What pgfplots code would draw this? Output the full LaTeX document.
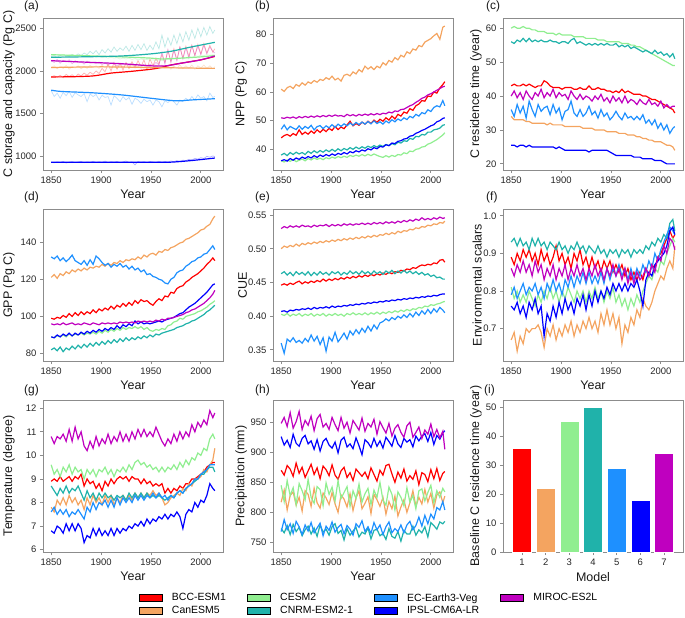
\documentclass[border=0pt]{standalone}
\usepackage{fontspec}
\setmainfont{Liberation Sans}
\usepackage{pgfplots}
\usepackage{pgfplotstable}
\pgfplotsset{compat=1.18}

\definecolor{cbcc}{HTML}{FF0000}
\definecolor{ccan}{HTML}{F4A460}
\definecolor{ccesm}{HTML}{90EE90}
\definecolor{ccnrm}{HTML}{20B2AA}
\definecolor{cec}{HTML}{1E90FF}
\definecolor{cipsl}{HTML}{0000FF}
\definecolor{cmiroc}{HTML}{BF00BF}

% (a) C storage, annual (faint)
\pgfplotstableread{
yr bcc can cesm cnrm ec ipsl miroc
1850 1930 2040 2190 2170 1770 930 2120
1853 1945 2060 2180 2175 1700 925 2100
1856 1925 2025 2195 2160 1740 935 2135
1859 1950 2055 2185 2180 1680 928 2090
1862 1920 2030 2190 2165 1750 940 2125
1865 1960 2065 2175 2185 1710 922 2105
1868 1935 2020 2185 2170 1760 932 2130
1871 1955 2050 2190 2190 1690 938 2085
1874 1930 2035 2180 2175 1745 926 2120
1877 1965 2060 2175 2200 1720 934 2095
1880 1940 2025 2185 2180 1700 940 2110
1883 1975 2055 2170 2210 1735 925 2080
1886 1950 2030 2180 2190 1640 935 2115
1889 1985 2065 2165 2230 1730 930 2090
1892 1960 2040 2175 2200 1700 942 2100
1895 2000 2060 2160 2240 1725 928 2085
1898 1970 2030 2170 2190 1660 936 2105
1901 2030 2065 2155 2250 1715 930 2075
1904 1990 2040 2165 2210 1690 944 2095
1907 2080 2070 2150 2260 1700 926 2070
1910 2000 2035 2160 2220 1600 938 2090
1913 2100 2060 2150 2280 1710 932 2080
1916 2020 2030 2155 2230 1680 940 2060
1919 2090 2075 2140 2270 1640 925 2085
1922 2010 2040 2150 2240 1700 935 2070
1925 2100 2065 2140 2290 1660 945 2090
1928 2030 2030 2150 2230 1690 928 2065
1931 2110 2070 2135 2300 1610 936 2085
1934 2040 2035 2145 2240 1680 900 2060
1937 2120 2060 2130 2310 1660 940 2080
1940 2050 2030 2140 2250 1620 932 2060
1943 2130 2065 2130 2320 1670 938 2075
1946 2020 2020 2135 2240 1640 928 2055
1949 2140 2060 2125 2300 1660 940 2080
1952 2060 2030 2130 2250 1600 935 2060
1955 2150 2070 2120 2340 1660 930 2100
1958 2080 2025 2130 2260 1640 942 2070
1961 2190 2070 2120 2420 1580 932 2220
1964 2100 2035 2130 2280 1650 940 2080
1967 2240 2065 2135 2390 1630 934 2250
1970 2110 2020 2140 2300 1660 945 2100
1973 2260 2060 2140 2420 1640 938 2240
1976 2130 2030 2150 2320 1600 950 2120
1979 2280 2070 2145 2440 1660 942 2280
1982 2150 2025 2160 2340 1640 955 2140
1985 2290 2060 2150 2460 1680 950 2270
1988 2170 2030 2170 2360 1650 965 2150
1991 2300 2070 2160 2480 1700 958 2300
1994 2180 2020 2180 2380 1660 975 2180
1997 2310 2060 2170 2500 1720 968 2290
2000 2200 2035 2185 2400 1680 985 2190
2003 2320 2070 2180 2510 1700 975 2300
2006 2210 2030 2190 2420 1650 1000 2200
2009 2300 2060 2185 2520 1740 990 2280
2012 2220 2025 2190 2440 1690 1005 2230
2014 2260 2050 2185 2480 1700 995 2210
}\tabA

% (b) NPP
\pgfplotstableread{
yr bcc can cesm cnrm ec ipsl miroc
1850 44.0 61.0 36.0 38.0 47.0 36.0 51.0
1853 44.8 60.2 35.6 38.6 48.5 36.4 50.8
1856 45.2 61.5 36.3 37.8 46.8 35.9 51.2
1859 44.6 62.0 35.8 38.9 48.0 36.8 50.9
1862 45.5 61.2 36.5 38.2 47.4 36.2 51.3
1865 44.9 62.6 35.7 39.0 46.9 37.0 50.8
1868 46.8 62.0 36.2 38.4 48.2 36.5 51.4
1871 45.2 63.2 36.6 38.9 47.0 37.3 51.0
1874 46.0 62.4 36.0 38.2 48.0 36.8 51.5
1877 45.3 63.5 36.8 39.3 47.3 37.5 51.1
1880 46.4 63.0 36.3 38.6 48.4 37.0 51.6
1883 45.6 64.0 37.0 39.5 46.8 37.8 51.2
1886 46.8 63.4 36.5 38.8 47.9 37.2 51.7
1889 45.9 64.4 36.9 39.6 48.3 38.0 51.3
1892 47.0 64.0 36.4 39.0 47.2 37.5 51.8
1895 46.2 65.0 37.1 39.8 48.2 38.2 51.4
1898 47.3 64.4 36.7 39.2 47.5 37.7 51.9
1901 46.6 65.5 37.3 40.0 48.6 38.4 51.5
1904 48.0 64.2 36.9 39.3 47.6 37.9 52.0
1907 46.9 64.8 37.5 40.2 48.8 38.6 51.6
1910 47.8 63.8 37.1 39.5 48.0 38.2 51.8
1913 47.2 65.8 37.6 40.3 48.9 38.9 51.4
1916 48.5 66.2 37.2 39.8 48.2 38.4 52.2
1919 49.8 65.6 37.9 40.6 49.2 39.2 51.7
1922 48.2 67.0 37.5 40.0 48.4 38.8 52.1
1925 49.0 66.3 38.0 40.8 49.4 39.5 51.6
1928 48.4 67.8 37.6 40.2 48.6 39.1 52.2
1931 49.5 67.0 38.2 40.9 49.5 39.8 51.8
1934 48.8 69.0 37.7 40.4 48.8 39.4 52.3
1937 49.8 68.0 38.3 41.1 49.7 40.2 51.9
1940 49.0 68.8 37.8 40.6 48.9 39.8 52.4
1943 50.2 67.8 38.4 41.3 49.9 40.6 52.0
1946 49.4 69.0 37.9 40.8 49.0 40.2 52.5
1949 50.5 68.4 37.5 41.5 49.6 41.0 52.1
1952 49.8 70.2 37.2 41.0 48.8 40.8 52.6
1955 51.0 69.4 37.8 41.7 49.9 41.6 52.4
1958 50.2 71.0 37.3 41.3 49.2 41.3 53.0
1961 51.6 70.4 37.9 42.0 50.3 42.2 52.7
1964 50.6 72.0 37.5 41.6 49.6 42.0 53.4
1967 52.2 71.2 38.2 42.5 50.6 42.8 53.2
1970 51.6 72.8 38.0 42.2 50.0 43.0 53.9
1973 53.0 72.2 38.8 43.0 51.0 43.6 54.0
1976 52.6 74.0 38.5 42.8 50.4 43.8 54.6
1979 54.2 73.4 39.4 43.8 51.5 44.6 55.2
1982 53.6 75.0 39.2 43.5 51.0 44.8 55.6
1985 55.2 74.6 40.0 44.5 52.2 45.6 56.4
1988 55.8 76.2 40.2 44.4 51.6 46.0 57.0
1991 57.0 75.8 40.8 45.2 52.8 46.6 57.8
1994 56.8 77.4 41.0 45.0 52.4 47.0 58.2
1997 58.6 78.0 41.8 46.0 53.8 47.6 59.0
2000 58.4 78.6 42.2 46.0 53.2 48.2 59.4
2003 60.0 79.6 42.8 46.8 54.6 48.6 60.0
2006 59.6 80.4 43.4 47.0 55.2 49.6 60.6
2009 61.4 78.4 44.2 47.4 54.8 50.0 61.2
2012 62.6 82.6 45.0 48.4 57.0 50.8 61.8
2014 63.6 83.0 45.8 48.6 55.2 51.0 62.0
}\tabB

% (c) C residence time
\pgfplotstableread{
yr bcc can cesm cnrm ec ipsl miroc
1850 43 34 60 56 36 25.5 40
1853 43.5 33 60.5 55.5 34 25.5 41.5
1856 43 33 60 56.5 37.5 25 39.5
1859 43 33 60 56 35 25.5 41
1862 43.5 33 60.5 57 37 25.5 39
1865 43 32.5 60 56 33.5 25 41.5
1868 43.5 32.5 60 57 38.5 25.5 40
1871 43 32 59.5 56 36 25 39
1874 42.5 32 59.5 56.5 34 25 41
1877 43 32 59 56 37.5 25 40
1880 43 32 59 56.5 35.5 25 42
1883 44.5 32 59 56 36.5 25 39.5
1886 44 31.5 58.5 56 37 25 41
1889 43 32 58.5 56.5 34.5 25 40
1892 42.5 31.5 58.5 56 37.5 25 42
1895 42.5 31.5 58 56 35 24.5 39.5
1898 42.5 31.5 58.5 55.5 36.5 25 41
1901 42 31.5 58 56 33 24.5 40
1904 42.5 31 58 56 35.5 24 40.5
1907 42.5 31 58 55.5 36 24 39
1910 42.5 31 58 56.5 38.5 24 41.5
1913 42 31 57.5 57 35 24 40
1916 42 31 57.5 55.5 34 24 39
1919 42.5 31 57.5 56 36 24 40.5
1922 42 30.5 57.5 55.5 34 24 39
1925 42 30.5 57 55 35 24 40
1928 43 30.5 57 55.5 37 23.5 39.5
1931 42 30.5 57 55 34.5 24 38.5
1934 42 30 57 55.5 35.5 24 40
1937 42.5 30 56.5 55 33.5 24 39
1940 42 30 56.5 55.5 36 24 40.5
1943 42 30 56.5 55 34 24 38.5
1946 41.5 29.5 56 55.5 35 24 39.5
1949 41.5 29.5 56 55 33 23.5 38
1952 41 29.5 56 55 34 23 40
1955 41.5 29.5 56 55.5 35.5 22.5 38.5
1958 41 29 56 54.5 34 22.5 39.5
1961 42 29 55.5 55 33 22.5 38
1964 41 29 55.5 54.5 35 22.5 40
1967 41.5 28.5 55.5 55 33.5 22.5 38
1970 41 28.5 55 54 34 22.5 39
1973 40.5 28.5 55 54.5 33 22 38.5
1976 40.5 28 54.5 54 34 22 37.5
1979 40.5 28 54.5 53.5 33 22 39
1982 40 27.5 54 53 34.5 21.5 38
1985 40 27.5 53.5 53.5 32 21.5 37.5
1988 39.5 27 53 53 33 21.5 39
1991 39 27 52.5 52.5 31.5 21.5 37.5
1994 39 26.5 52 53.5 33 21 38
1997 38.5 26.5 51.5 52.5 30.5 21 37
2000 38 26.5 51 53 32 21 38.5
2003 37.5 26 50.5 52 30 20.5 36.5
2006 37 25.5 50 52.5 31.5 20 37.5
2009 36.5 25.5 49.5 51.5 29 20 36.5
2012 36 25 49 52.5 30.5 20 37
2014 35 24 49 51 31 20 37
}\tabC

% (d) GPP
\pgfplotstableread{
yr bcc can cesm cnrm ec ipsl miroc
1850 99 121 89 82 132 89 96
1853 98.5 122.5 88.5 83 131 88.5 95.5
1856 99.5 120.5 89.5 81.5 132.5 90 96
1859 99 123 89 83.5 130 89 95.5
1862 100.5 122 90 81 131.5 90.5 96.5
1865 99.5 124 89 83 129.5 89.5 95.5
1868 101.5 123 90.5 82 131 91 96
1871 100 125 89.5 84 133 89.5 96.5
1874 102 124 90.5 82.5 130 91 95.5
1877 100.5 125.5 90 84.5 129 90 96
1880 102.5 124.5 91 83 128 91.5 95.5
1883 101 126 90 85 130 90.5 96.5
1886 102.5 125 91 83.5 127.5 92 96
1889 101.5 126.5 90.5 85.5 130.5 91 95.5
1892 103.5 126 91.5 84 128 92.5 96.5
1895 102 127 90.5 86 132.5 91.5 96
1898 104 126.5 92 84.5 131 93 95.5
1901 103 128 91 86.5 129 92 96.5
1904 104.5 127 92.5 85 127.5 93.5 96
1907 103.5 128.5 91.5 87 128.5 92.5 96.5
1910 105.5 127.5 93 85.5 126.5 94 96
1913 104 129 92 87.5 128 93 96.5
1916 106 128.5 93.5 86 127 95 96
1919 105 130 92.5 88 128.5 93.5 97
1922 107 129 94 86.5 126.5 95.5 96.5
1925 105.5 130.5 93 88.5 127.5 94.5 97
1928 107.5 130 94 87 125.5 96 96.5
1931 106 131 93.5 88.5 127 95 97
1934 108.5 130.5 94.5 87.5 125 97.5 96.5
1937 107 132 93.5 89 126 96 97.5
1940 109 131 94.5 88 124 97 97
1943 108 133 93 89.5 125 96 97.5
1946 108.5 132 94 88.5 122.5 96.5 97
1949 107 133.5 92.5 90 123 96 97.5
1952 106 134 92 89 121.5 96.5 97
1955 108 133 93 90.5 121 97 98
1958 109.5 135 92.5 90 120 97.5 97.5
1961 108.5 134.5 93.5 91 119.5 97 98.5
1964 111 136 93 91.5 118 98 98
1967 110.5 135.5 95 92 117.5 98.5 99
1970 113 137 95.5 92.5 120 99 99
1973 112.5 137.5 97 93 121 99.5 99.5
1976 115 138.5 97.5 94 123.5 100.5 100
1979 116 139.5 99 94.5 124.5 101.5 100.5
1982 116.5 140 98.5 95 125 102 101
1985 118.5 141.5 100 96 127 103.5 102
1988 119.5 142 100.5 96.5 128 105 102.5
1991 121 143 101 97.5 129.5 106 103.5
1994 122 144 101.5 98 130 107 104
1997 123 145 102.5 99 131.5 108.5 105
2000 124.5 146.5 103 100 132 110 106
2003 126 147 104 101 133.5 111.5 107
2006 128 148.5 105 102.5 134 113 108.5
2009 129.5 149.5 106.5 103.5 136 115 110
2012 131.5 152.5 107.5 105 138 117 112
2014 130 154 108.5 106 136 117.5 114
}\tabD

% (e) CUE
\pgfplotstableread{
yr bcc can cesm cnrm ec ipsl miroc
1850 0.446 0.500 0.403 0.463 0.360 0.407 0.530
1853 0.448 0.504 0.401 0.466 0.345 0.408 0.533
1856 0.446 0.502 0.404 0.461 0.366 0.406 0.531
1859 0.449 0.505 0.400 0.465 0.362 0.409 0.534
1862 0.447 0.503 0.403 0.460 0.368 0.408 0.532
1865 0.450 0.507 0.401 0.466 0.361 0.410 0.534
1868 0.452 0.504 0.404 0.462 0.364 0.409 0.532
1871 0.448 0.508 0.400 0.465 0.360 0.411 0.535
1874 0.451 0.506 0.403 0.461 0.367 0.410 0.533
1877 0.449 0.509 0.401 0.466 0.362 0.412 0.534
1880 0.452 0.507 0.404 0.460 0.372 0.410 0.532
1883 0.450 0.510 0.400 0.465 0.363 0.413 0.535
1886 0.453 0.508 0.403 0.461 0.370 0.411 0.533
1889 0.451 0.511 0.401 0.466 0.358 0.413 0.535
1892 0.455 0.509 0.404 0.462 0.368 0.412 0.534
1895 0.452 0.512 0.400 0.465 0.348 0.414 0.536
1898 0.455 0.510 0.403 0.461 0.369 0.412 0.533
1901 0.453 0.513 0.401 0.466 0.363 0.415 0.536
1904 0.456 0.511 0.404 0.463 0.376 0.413 0.534
1907 0.454 0.514 0.401 0.466 0.362 0.415 0.536
1910 0.457 0.512 0.403 0.461 0.368 0.414 0.534
1913 0.455 0.515 0.400 0.465 0.375 0.416 0.537
1916 0.458 0.513 0.404 0.462 0.366 0.415 0.535
1919 0.456 0.516 0.402 0.467 0.378 0.417 0.537
1922 0.459 0.514 0.405 0.463 0.372 0.416 0.535
1925 0.457 0.517 0.402 0.466 0.380 0.418 0.537
1928 0.460 0.515 0.404 0.462 0.374 0.417 0.536
1931 0.458 0.518 0.402 0.467 0.382 0.419 0.538
1934 0.461 0.516 0.405 0.463 0.376 0.418 0.536
1937 0.459 0.519 0.402 0.466 0.385 0.420 0.538
1940 0.462 0.517 0.405 0.462 0.378 0.419 0.536
1943 0.460 0.520 0.403 0.467 0.387 0.421 0.539
1946 0.463 0.518 0.406 0.463 0.381 0.420 0.537
1949 0.461 0.521 0.403 0.466 0.390 0.422 0.539
1952 0.464 0.520 0.406 0.462 0.392 0.421 0.537
1955 0.462 0.523 0.404 0.467 0.396 0.423 0.540
1958 0.465 0.521 0.407 0.464 0.393 0.422 0.538
1961 0.463 0.524 0.405 0.468 0.398 0.424 0.540
1964 0.466 0.522 0.408 0.463 0.395 0.423 0.538
1967 0.465 0.526 0.406 0.467 0.400 0.425 0.541
1970 0.468 0.524 0.409 0.464 0.397 0.424 0.539
1973 0.467 0.527 0.407 0.468 0.402 0.426 0.542
1976 0.470 0.526 0.410 0.464 0.398 0.425 0.540
1979 0.469 0.529 0.408 0.467 0.404 0.427 0.543
1982 0.472 0.528 0.411 0.463 0.399 0.426 0.541
1985 0.471 0.531 0.410 0.466 0.406 0.428 0.544
1988 0.474 0.530 0.413 0.462 0.401 0.427 0.542
1991 0.476 0.533 0.412 0.465 0.408 0.429 0.546
1994 0.475 0.532 0.415 0.461 0.403 0.428 0.543
1997 0.477 0.535 0.414 0.463 0.410 0.430 0.545
2000 0.476 0.534 0.417 0.459 0.404 0.429 0.543
2003 0.479 0.537 0.416 0.461 0.411 0.431 0.546
2006 0.478 0.536 0.418 0.457 0.406 0.430 0.544
2009 0.483 0.539 0.419 0.458 0.413 0.432 0.547
2012 0.484 0.538 0.421 0.455 0.409 0.433 0.545
2014 0.480 0.541 0.422 0.455 0.405 0.433 0.546
}\tabE

% (f) environmental scalars
\pgfplotstableread{
yr bcc can cesm cnrm ec ipsl miroc
1850 0.89 0.67 0.81 0.93 0.79 0.76 0.86
1853 0.87 0.69 0.78 0.94 0.81 0.75 0.84
1856 0.90 0.64 0.80 0.92 0.78 0.77 0.87
1859 0.88 0.68 0.77 0.94 0.80 0.74 0.85
1862 0.91 0.66 0.79 0.92 0.82 0.76 0.88
1865 0.89 0.70 0.77 0.93 0.79 0.73 0.85
1868 0.91 0.69 0.80 0.91 0.81 0.77 0.87
1871 0.88 0.70 0.78 0.94 0.80 0.75 0.84
1874 0.90 0.70 0.76 0.92 0.82 0.78 0.88
1877 0.87 0.71 0.79 0.94 0.79 0.74 0.85
1880 0.91 0.69 0.77 0.92 0.81 0.76 0.87
1883 0.88 0.65 0.80 0.93 0.78 0.68 0.83
1886 0.90 0.70 0.78 0.91 0.82 0.74 0.86
1889 0.87 0.68 0.81 0.93 0.80 0.72 0.84
1892 0.89 0.71 0.78 0.92 0.83 0.76 0.87
1895 0.92 0.67 0.80 0.91 0.80 0.73 0.83
1898 0.88 0.70 0.77 0.93 0.82 0.77 0.86
1901 0.90 0.68 0.80 0.91 0.79 0.74 0.84
1904 0.87 0.71 0.78 0.92 0.83 0.78 0.87
1907 0.89 0.69 0.81 0.90 0.81 0.75 0.83
1910 0.86 0.72 0.79 0.92 0.84 0.77 0.86
1913 0.90 0.68 0.77 0.91 0.81 0.74 0.84
1916 0.88 0.71 0.80 0.93 0.84 0.78 0.87
1919 0.91 0.69 0.78 0.91 0.82 0.76 0.84
1922 0.87 0.72 0.80 0.92 0.85 0.79 0.86
1925 0.89 0.70 0.77 0.90 0.82 0.75 0.83
1928 0.86 0.73 0.80 0.92 0.85 0.79 0.86
1931 0.89 0.70 0.78 0.91 0.82 0.76 0.84
1934 0.86 0.72 0.81 0.90 0.84 0.80 0.87
1937 0.88 0.69 0.78 0.92 0.82 0.77 0.84
1940 0.85 0.74 0.80 0.90 0.85 0.80 0.86
1943 0.88 0.71 0.77 0.91 0.82 0.78 0.83
1946 0.86 0.75 0.80 0.89 0.86 0.81 0.86
1949 0.88 0.71 0.78 0.91 0.83 0.79 0.84
1952 0.85 0.74 0.81 0.90 0.86 0.82 0.87
1955 0.87 0.70 0.77 0.91 0.84 0.80 0.84
1958 0.85 0.73 0.79 0.89 0.87 0.82 0.86
1961 0.87 0.66 0.76 0.91 0.84 0.80 0.83
1964 0.84 0.71 0.78 0.90 0.86 0.82 0.86
1967 0.86 0.69 0.75 0.91 0.83 0.80 0.82
1970 0.83 0.73 0.78 0.89 0.86 0.82 0.85
1973 0.85 0.71 0.76 0.91 0.83 0.81 0.82
1976 0.83 0.75 0.79 0.90 0.86 0.83 0.85
1979 0.85 0.73 0.77 0.91 0.84 0.80 0.83
1982 0.83 0.78 0.80 0.90 0.87 0.76 0.84
1985 0.86 0.76 0.82 0.92 0.85 0.83 0.86
1988 0.84 0.75 0.84 0.91 0.88 0.85 0.84
1991 0.87 0.77 0.83 0.93 0.86 0.84 0.87
1994 0.86 0.80 0.86 0.92 0.90 0.87 0.85
1997 0.89 0.82 0.85 0.94 0.88 0.88 0.89
2000 0.90 0.84 0.88 0.93 0.91 0.89 0.88
2003 0.92 0.83 0.87 0.95 0.93 0.90 0.92
2006 0.94 0.86 0.90 0.94 0.95 0.92 0.90
2009 0.96 0.88 0.92 0.98 0.97 0.96 0.94
2012 0.94 0.86 0.94 0.99 0.96 0.97 0.93
2014 0.95 0.92 0.93 0.96 0.95 0.95 0.91
}\tabF

% (g) temperature
\pgfplotstableread{
yr bcc can cesm cnrm ec ipsl miroc
1850 8.9 7.8 9.6 8.7 7.6 6.8 10.8
1853 9.0 7.6 9.2 8.5 7.8 6.7 10.5
1856 8.9 8.1 9.4 8.3 7.5 7.0 10.8
1859 9.1 7.9 9.1 8.6 7.7 6.9 10.7
1862 8.9 8.2 9.5 8.4 7.5 6.7 10.9
1865 9.0 7.9 9.3 8.7 7.7 7.1 10.6
1868 9.1 8.3 9.6 8.4 7.4 6.8 11.1
1871 8.9 8.0 9.2 8.6 7.6 7.1 10.6
1874 9.1 8.2 9.5 8.5 7.5 6.8 11.2
1877 9.0 7.9 9.3 8.7 7.7 7.1 10.7
1880 9.2 8.1 9.4 8.4 7.5 6.9 11.0
1883 8.7 7.7 9.0 8.1 7.3 6.3 10.4
1886 9.0 8.2 9.4 8.5 7.8 6.6 10.2
1889 8.8 7.9 9.2 8.2 7.6 6.5 10.6
1892 8.9 8.3 9.4 8.4 8.0 6.9 10.3
1895 8.6 8.0 9.1 8.1 7.7 6.6 10.8
1898 8.8 8.2 9.4 8.4 8.0 6.9 10.4
1901 8.5 7.9 9.3 8.2 7.9 6.6 10.7
1904 8.9 8.3 9.5 8.4 8.1 6.8 10.5
1907 8.7 8.0 9.2 8.2 7.8 6.6 10.9
1910 9.0 8.3 9.4 8.3 8.1 6.9 10.5
1913 8.8 7.9 9.1 8.1 7.8 6.6 10.8
1916 9.0 8.2 9.4 8.3 8.2 6.9 10.6
1919 9.1 8.0 9.3 8.2 7.9 6.7 11.0
1922 9.0 8.3 9.5 8.3 8.2 6.9 10.6
1925 9.1 8.1 9.3 8.1 8.0 6.8 10.9
1928 8.9 8.3 9.6 8.4 8.2 7.0 10.6
1931 9.1 8.1 9.4 8.2 8.0 6.9 11.0
1934 9.0 8.4 9.7 8.4 8.3 7.1 10.7
1937 9.0 8.2 9.8 8.2 8.1 7.0 11.1
1940 8.8 8.4 9.6 8.4 8.3 7.2 10.8
1943 9.0 8.2 9.7 8.2 8.1 7.0 11.1
1946 8.8 8.4 9.5 8.4 8.3 7.3 10.8
1949 8.9 8.3 9.6 8.2 8.2 7.1 11.0
1952 8.7 8.5 9.4 8.3 8.4 7.3 10.8
1955 8.8 8.3 9.5 8.2 8.2 7.2 11.2
1958 8.7 8.4 9.3 8.3 8.4 7.4 10.9
1961 8.8 8.2 9.5 8.2 8.2 7.3 10.6
1964 8.4 7.9 9.3 8.1 8.3 7.5 10.4
1967 8.6 8.0 9.5 8.2 8.1 7.3 10.7
1970 8.4 8.2 9.4 8.3 8.3 7.5 10.5
1973 8.6 8.3 9.6 8.2 8.2 7.4 10.9
1976 8.5 8.4 9.4 8.4 8.4 7.6 10.6
1979 8.7 8.3 9.7 8.5 8.5 7.4 11.0
1982 8.6 8.6 9.5 8.4 8.4 6.9 10.7
1985 8.8 8.5 9.8 8.6 8.6 7.5 11.0
1988 8.8 8.8 9.6 8.7 8.7 7.7 10.8
1991 9.0 8.7 9.9 8.8 8.8 7.6 11.3
1994 9.0 9.0 9.8 8.9 9.0 8.0 11.0
1997 9.1 9.0 10.1 9.0 9.0 7.8 11.4
2000 9.2 9.1 10.0 9.2 9.2 8.1 11.2
2003 9.3 9.4 10.3 9.2 9.3 8.0 11.5
2006 9.5 9.3 10.2 9.4 9.4 8.3 11.3
2009 9.6 9.6 10.7 9.5 9.6 8.8 11.9
2012 9.7 9.8 10.9 9.5 9.6 8.6 11.6
2014 9.7 10.3 10.7 9.3 9.6 8.5 11.8
}\tabG

% (h) precipitation
\pgfplotstableread{
yr bcc can cesm cnrm ec ipsl miroc
1850 870 817 845 773 768 926 948
1853 862 837 818 766 788 912 958
1856 878 804 853 778 771 920 943
1859 872 828 828 763 781 908 966
1862 860 834 841 780 765 930 940
1865 882 812 813 768 785 915 951
1868 865 825 848 775 776 910 968
1871 875 802 836 761 763 923 938
1874 858 836 821 771 779 928 953
1877 869 830 855 777 769 914 945
1880 880 810 825 764 783 919 960
1883 863 840 815 774 766 905 936
1886 874 816 843 760 774 921 956
1889 856 807 838 779 782 902 963
1892 877 832 811 767 761 918 942
1895 871 824 849 772 777 923 948
1898 861 813 830 762 770 912 938
1901 879 833 842 776 784 907 958
1904 862 814 819 781 767 917 946
1907 855 800 853 765 775 899 936
1910 869 829 823 770 780 920 958
1913 875 822 833 754 764 925 940
1916 858 809 843 773 778 909 950
1919 866 831 810 762 772 914 932
1922 853 803 836 769 762 906 953
1925 872 824 823 775 781 924 945
1928 866 836 847 759 775 911 937
1931 860 806 817 767 786 896 957
1934 867 815 831 764 768 921 935
1937 856 826 840 774 776 916 948
1940 874 798 813 756 765 908 942
1943 863 830 837 770 783 923 955
1946 852 821 825 772 771 910 930
1949 870 810 850 761 779 919 951
1952 862 825 820 765 763 907 941
1955 878 797 812 755 776 925 932
1958 880 818 842 773 784 918 948
1961 864 806 830 760 766 910 927
1964 850 827 804 757 773 928 940
1967 867 794 834 768 768 914 946
1970 857 809 825 752 779 908 933
1973 872 821 811 770 766 923 925
1976 852 800 841 764 779 917 944
1979 861 816 817 764 785 921 950
1982 855 836 828 777 771 909 925
1985 869 810 806 762 778 927 933
1988 846 825 836 771 792 919 942
1991 866 814 839 766 777 927 923
1994 863 838 819 776 795 931 937
1997 851 817 833 759 781 918 930
2000 871 832 845 783 797 933 947
2003 856 807 816 778 789 913 926
2006 873 829 836 772 808 928 938
2009 853 834 825 784 804 922 924
2012 865 816 840 781 818 932 935
2014 868 827 834 785 804 936 905
}\tabH

\pgfplotsset{
  panel/.style={
    scale only axis, width=180bp, height=152bp, anchor=north west,
    xmin=1841.8, xmax=2022.2, xtick={1850,1900,1950,2000},
    xlabel={Year},
    axis line style={draw=black!45, line width=0.8bp},
    tick style={draw=black!45, line width=0.8bp},
    tick align=outside, tick pos=left, major tick length=3bp,
    ticklabel style={font=\fontsize{9.5}{11}\selectfont, text=black!85},
    label style={font=\fontsize{12.5}{14}\selectfont, text=black!90},
    ylabel style={anchor=south, inner sep=0pt},
    /pgf/number format/assume math mode=true,
    /pgf/number format/1000 sep={},
    scaled ticks=false,
    every axis plot/.append style={line width=1.2bp, no markers},
  },
  col1/.style={ylabel style={at={(axis description cs:-0.156,0.5)}}},
  col2/.style={ylabel style={at={(axis description cs:-0.144,0.5)}}},
  col3/.style={ylabel style={at={(axis description cs:-0.117,0.5)}}},
  patch/.style={legend image code/.code={\fill[##1] (0bp,-3.5bp) rectangle (23bp,3.5bp);}},
}

\newcommand\sevenlines[1]{%
  \addplot[cbcc, forget plot] table[x=yr, y=bcc] {#1};
  \addplot[ccan, forget plot] table[x=yr, y=can] {#1};
  \addplot[ccesm, forget plot] table[x=yr, y=cesm] {#1};
  \addplot[ccnrm, forget plot] table[x=yr, y=cnrm] {#1};
  \addplot[cec, forget plot] table[x=yr, y=ec] {#1};
  \addplot[cipsl, forget plot] table[x=yr, y=ipsl] {#1};
  \addplot[cmiroc, forget plot] table[x=yr, y=miroc] {#1};
}

\begin{document}
\begin{tikzpicture}
\path[use as bounding box] (0bp,0bp) rectangle (685bp,-618bp);

\begin{scope}[font=\fontsize{12}{14}\selectfont, text=black!90]
\node[anchor=north west, inner sep=0] at (24bp,-1bp) {(a)};
\node[anchor=north west, inner sep=0] at (255bp,-1bp) {(b)};
\node[anchor=north west, inner sep=0] at (486bp,-1bp) {(c)};
\node[anchor=north west, inner sep=0] at (24bp,-192bp) {(d)};
\node[anchor=north west, inner sep=0] at (255bp,-192bp) {(e)};
\node[anchor=north west, inner sep=0] at (486bp,-192bp) {(f)};
\node[anchor=north west, inner sep=0] at (24bp,-385bp) {(g)};
\node[anchor=north west, inner sep=0] at (255bp,-385bp) {(h)};
\node[anchor=north west, inner sep=0] at (484bp,-385bp) {(i)};
\end{scope}

% (a)
\begin{axis}[panel, col1, at={(43bp,-18bp)}, ymin=840, ymax=2620, ytick={1000,1500,2000,2500},
  ylabel={C storage and capacity (Pg C)}]
\addplot[cbcc, opacity=0.3, line width=0.7bp] table[x=yr, y=bcc] {\tabA};
\addplot[ccan, opacity=0.3, line width=0.7bp] table[x=yr, y=can] {\tabA};
\addplot[ccesm, opacity=0.3, line width=0.7bp] table[x=yr, y=cesm] {\tabA};
\addplot[ccnrm, opacity=0.3, line width=0.7bp] table[x=yr, y=cnrm] {\tabA};
\addplot[cec, opacity=0.3, line width=0.7bp] table[x=yr, y=ec] {\tabA};
\addplot[cipsl, opacity=0.3, line width=0.7bp] table[x=yr, y=ipsl] {\tabA};
\addplot[cmiroc, opacity=0.3, line width=0.7bp] table[x=yr, y=miroc] {\tabA};
\addplot[cbcc, smooth] coordinates {(1850,1930)(1870,1932)(1890,1940)(1900,1955)(1910,1975)(1930,1995)(1950,2020)(1960,2040)(1970,2070)(1990,2110)(2000,2130)(2014,2170)};
\addplot[ccan, smooth] coordinates {(1850,2040)(1900,2048)(1950,2040)(2000,2032)(2014,2030)};
\addplot[ccesm, smooth] coordinates {(1850,2190)(1880,2180)(1920,2165)(1950,2150)(1960,2140)(1980,2150)(2000,2165)(2014,2180)};
\addplot[ccnrm, smooth] coordinates {(1850,2160)(1880,2165)(1920,2175)(1950,2200)(1970,2230)(1990,2280)(2014,2335)};
\addplot[cec, smooth] coordinates {(1850,1775)(1860,1760)(1890,1745)(1920,1720)(1950,1680)(1975,1650)(1990,1660)(2014,1675)};
\addplot[cipsl, smooth] coordinates {(1850,930)(1900,930)(1950,930)(1970,932)(1990,950)(2014,980)};
\addplot[cmiroc, smooth] coordinates {(1850,2120)(1880,2105)(1920,2085)(1950,2060)(1965,2060)(1980,2090)(2000,2130)(2014,2175)};
\end{axis}

% (b)
\begin{axis}[panel, col2, at={(273bp,-18bp)}, ymin=32.8, ymax=85.8, ytick={40,50,60,70,80},
  ylabel={NPP (Pg C)}]
\sevenlines{\tabB}
\end{axis}

% (c)
\begin{axis}[panel, col3, at={(503bp,-18bp)}, ymin=18.2, ymax=63, ytick={20,30,40,50,60},
  ylabel={C residence time (year)}]
\sevenlines{\tabC}
\end{axis}

% (d)
\begin{axis}[panel, col1, at={(43bp,-209bp)}, ymin=76, ymax=157.8, ytick={80,100,120,140},
  ylabel={GPP (Pg C)}]
\sevenlines{\tabD}
\end{axis}

% (e)
\begin{axis}[panel, col2, at={(273bp,-209bp)}, ymin=0.3335, ymax=0.559, ytick={0.35,0.40,0.45,0.50,0.55},
  yticklabel style={/pgf/number format/.cd, fixed, fixed zerofill, precision=2},
  ylabel={CUE}]
\sevenlines{\tabE}
\end{axis}

% (f)
\begin{axis}[panel, col3, at={(503bp,-209bp)}, ymin=0.614, ymax=1.018, ytick={0.7,0.8,0.9,1.0},
  yticklabel style={/pgf/number format/.cd, fixed, fixed zerofill, precision=1},
  ylabel={Environmental scalars}]
\sevenlines{\tabF}
\end{axis}

% (g)
\begin{axis}[panel, col1, at={(43bp,-400bp)}, ymin=5.9, ymax=12.35, ytick={6,7,8,9,10,11,12},
  ylabel={Temperature (degree)}]
\sevenlines{\tabG}
\end{axis}

% (h)
\begin{axis}[panel, col2, at={(273bp,-400bp)}, ymin=734, ymax=987, ytick={750,800,850,900,950},
  ylabel={Precipitation (mm)},
  legend style={at={(0.528,-0.245)}, anchor=north, legend columns=4, draw=none, fill=none,
    font=\fontsize{10.5}{12}\selectfont, nodes={inner xsep=0pt},
    /tikz/every odd column/.append style={column sep=9bp},
    /tikz/every even column/.append style={column sep=21bp}},
  legend cell align=left]
\addlegendimage{patch, fill=cbcc}
\addlegendimage{patch, fill=ccesm}
\addlegendimage{patch, fill=cec}
\addlegendimage{patch, fill=cmiroc}
\addlegendimage{patch, fill=ccan}
\addlegendimage{patch, fill=ccnrm}
\addlegendimage{patch, fill=cipsl}
\sevenlines{\tabH}
\legend{BCC-ESM1, CESM2, EC-Earth3-Veg, MIROC-ES2L, CanESM5, CNRM-ESM2-1, IPSL-CM6A-LR}
\end{axis}

% (i)
\begin{axis}[panel, col3, at={(503bp,-400bp)}, xmin=0.2, xmax=7.8, xtick={1,2,3,4,5,6,7},
  xlabel={Model}, ymin=0, ymax=52.5, ytick={0,10,20,30,40,50},
  ylabel={Baseline C residence time (year)}]
\addplot[ybar, bar width=0.8, bar shift=0pt, fill=cbcc, draw=white, line width=0.5bp] coordinates {(1,36)};
\addplot[ybar, bar width=0.8, bar shift=0pt, fill=ccan, draw=white, line width=0.5bp] coordinates {(2,22)};
\addplot[ybar, bar width=0.8, bar shift=0pt, fill=ccesm, draw=white, line width=0.5bp] coordinates {(3,45)};
\addplot[ybar, bar width=0.8, bar shift=0pt, fill=ccnrm, draw=white, line width=0.5bp] coordinates {(4,50)};
\addplot[ybar, bar width=0.8, bar shift=0pt, fill=cec, draw=white, line width=0.5bp] coordinates {(5,29)};
\addplot[ybar, bar width=0.8, bar shift=0pt, fill=cipsl, draw=white, line width=0.5bp] coordinates {(6,18)};
\addplot[ybar, bar width=0.8, bar shift=0pt, fill=cmiroc, draw=white, line width=0.5bp] coordinates {(7,34)};
\end{axis}
\end{tikzpicture}
\end{document}
